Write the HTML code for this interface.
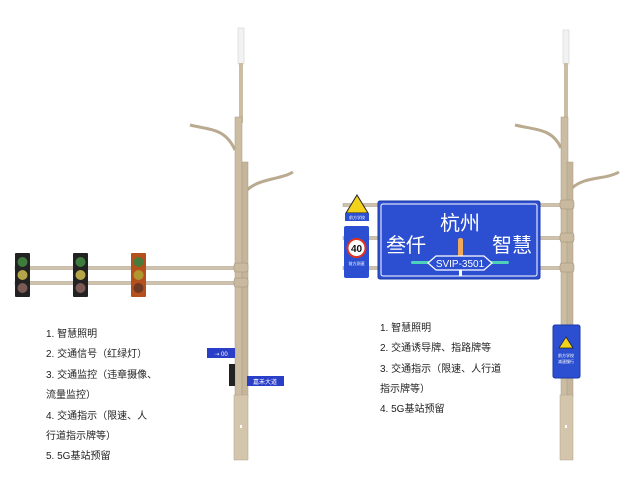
<!DOCTYPE html>
<html><head><meta charset="utf-8"><style>
body{margin:0;background:#fff;width:640px;height:495px;overflow:hidden;font-family:"Liberation Sans","Noto Sans CJK SC",sans-serif}
</style></head><body>
<svg width="640" height="495" xmlns="http://www.w3.org/2000/svg" font-family="Liberation Sans, Noto Sans CJK SC, sans-serif">
<!-- LEFT POLE -->
<g>
<rect x="15" y="266.5" width="225" height="3" fill="#cfc2ac" stroke="#a89a82" stroke-width="0.5"/>
<rect x="15" y="281.5" width="225" height="3" fill="#cfc2ac" stroke="#a89a82" stroke-width="0.5"/>
<path d="M190 125 C210 130,225 128,235 150" stroke="#b9aa90" stroke-width="3" fill="none"/>
<path d="M247 190 C260 178,280 180,293 172" stroke="#b9aa90" stroke-width="3" fill="none"/>
<rect x="238" y="28" width="6" height="36" fill="#f2f2f2" stroke="#ccc" stroke-width="0.5"/>
<rect x="239" y="63" width="4" height="60" fill="#cbbca2"/>
<rect x="235" y="117" width="7" height="280" fill="#cbbca2" stroke="#a89a82" stroke-width="0.5"/>
<rect x="242" y="162" width="6" height="235" fill="#c4b59b" stroke="#a89a82" stroke-width="0.5"/>
<rect x="234" y="395" width="14" height="65" fill="#d4c6ad" stroke="#b0a28a" stroke-width="0.5"/>
<rect x="240" y="425" width="2" height="3" fill="#fff"/>
<rect x="234" y="263" width="14" height="9" rx="2" fill="#c9ba9f" stroke="#9c8e76" stroke-width="0.5"/>
<rect x="234" y="278" width="14" height="9" rx="2" fill="#c9ba9f" stroke="#9c8e76" stroke-width="0.5"/>
<g>
<rect x="15" y="253" width="15" height="44" rx="1" fill="#222"/>
<circle cx="22.5" cy="262" r="5" fill="#3f7b3c"/><circle cx="22.5" cy="275" r="5" fill="#b5a64a"/><circle cx="22.5" cy="288" r="5" fill="#7a5a55"/>
<rect x="73" y="253" width="15" height="44" rx="1" fill="#222"/>
<circle cx="80.5" cy="262" r="5" fill="#3f7b3c"/><circle cx="80.5" cy="275" r="5" fill="#b5a64a"/><circle cx="80.5" cy="288" r="5" fill="#7a5a55"/>
<rect x="131" y="253" width="15" height="44" rx="1" fill="#b5501c"/>
<circle cx="138.5" cy="262" r="5" fill="#4a7a3a"/><circle cx="138.5" cy="275" r="5" fill="#b0962e"/><circle cx="138.5" cy="288" r="5" fill="#6e3a25"/>
</g>
<rect x="207" y="348" width="28" height="10" fill="#2a3fc8"/>
<text x="221" y="356" font-size="6" fill="#fff" text-anchor="middle">⇢ 00</text>
<rect x="229" y="364" width="6" height="22" fill="#222"/>
<rect x="247" y="376" width="37" height="10" fill="#2a3fc8"/>
<text x="265" y="384" font-size="6" fill="#fff" text-anchor="middle">嘉禾大道</text>
</g>
<g font-size="10" fill="#222">
<text x="46" y="337">1. 智慧照明</text>
<text x="46" y="357">2. 交通信号（红绿灯）</text>
<text x="46" y="378">3. 交通监控（违章摄像、</text>
<text x="46" y="398">流量监控）</text>
<text x="46" y="419">4. 交通指示（限速、人</text>
<text x="46" y="439">行道指示牌等）</text>
<text x="46" y="459">5. 5G基站预留</text>
</g>
<!-- RIGHT POLE -->
<g>
<rect x="343" y="203.5" width="222" height="3" fill="#cfc2ac" stroke="#a89a82" stroke-width="0.5"/>
<rect x="343" y="236.5" width="222" height="3" fill="#cfc2ac" stroke="#a89a82" stroke-width="0.5"/>
<rect x="343" y="266.5" width="222" height="3" fill="#cfc2ac" stroke="#a89a82" stroke-width="0.5"/>
<path d="M515 125 C535 130,552 128,561 148" stroke="#b9aa90" stroke-width="3" fill="none"/>
<path d="M572 188 C585 176,605 180,619 172" stroke="#b9aa90" stroke-width="3" fill="none"/>
<rect x="563" y="30" width="6" height="34" fill="#f2f2f2" stroke="#ccc" stroke-width="0.5"/>
<rect x="564" y="63" width="4" height="60" fill="#cbbca2"/>
<rect x="561" y="117" width="7" height="280" fill="#cbbca2" stroke="#a89a82" stroke-width="0.5"/>
<rect x="567" y="162" width="6" height="235" fill="#c4b59b" stroke="#a89a82" stroke-width="0.5"/>
<rect x="560" y="395" width="13" height="65" fill="#d4c6ad" stroke="#b0a28a" stroke-width="0.5"/>
<rect x="565" y="425" width="2" height="3" fill="#fff"/>
<rect x="560" y="200" width="14" height="9" rx="2" fill="#c9ba9f" stroke="#9c8e76" stroke-width="0.5"/>
<rect x="560" y="233" width="14" height="9" rx="2" fill="#c9ba9f" stroke="#9c8e76" stroke-width="0.5"/>
<rect x="560" y="263" width="14" height="9" rx="2" fill="#c9ba9f" stroke="#9c8e76" stroke-width="0.5"/>
<rect x="378" y="201" width="162" height="78" rx="2" fill="#2b4fd0" stroke="#1d38a8" stroke-width="1"/>
<rect x="381" y="204" width="156" height="72" rx="2" fill="none" stroke="#fff" stroke-width="1"/>
<text x="460" y="230" font-size="20" fill="#fff" text-anchor="middle">杭州</text>
<text x="406" y="252" font-size="20" fill="#fff" text-anchor="middle">叁仟</text>
<text x="512" y="252" font-size="20" fill="#fff" text-anchor="middle">智慧</text>
<rect x="458" y="238" width="5" height="20" rx="2" fill="#f0a85a"/>
<rect x="459" y="268" width="3" height="8" fill="#fff"/>
<rect x="411" y="261" width="98" height="3" rx="1.5" fill="#4fd0b8"/>
<path d="M428 263 L436 256 L484 256 L492 263 L484 270 L436 270 Z" fill="#2b4fd0" stroke="#fff" stroke-width="1.2"/>
<text x="460" y="267" font-size="10" fill="#fff" text-anchor="middle">SVIP-3501</text>
<path d="M357 195 L368 213 L346 213 Z" fill="#f3d21c" stroke="#222" stroke-width="1"/>
<rect x="345" y="213" width="24" height="8" fill="#2b4fd0"/>
<text x="357" y="219" font-size="4" fill="#fff" text-anchor="middle">前方学校</text>
<rect x="344" y="226" width="25" height="52" rx="2" fill="#2b4fd0"/>
<circle cx="356.5" cy="248" r="9" fill="#fff" stroke="#d32" stroke-width="2"/>
<text x="356.5" y="252" font-size="10" font-weight="bold" fill="#111" text-anchor="middle">40</text>
<text x="356.5" y="265" font-size="4" fill="#fff" text-anchor="middle">前方测速</text>
<rect x="553" y="325" width="27" height="53" rx="2" fill="#2b4fd0" stroke="#1d38a8"/>
<path d="M566 337 L573 348 L559 348 Z" fill="#f3d21c" stroke="#222" stroke-width="0.7"/>
<text x="566" y="357" font-size="4" fill="#fff" text-anchor="middle">前方学校</text>
<text x="566" y="363" font-size="4" fill="#fff" text-anchor="middle">减速慢行</text>
</g>
<g font-size="10" fill="#222">
<text x="380" y="331">1. 智慧照明</text>
<text x="380" y="351">2. 交通诱导牌、指路牌等</text>
<text x="380" y="372">3. 交通指示（限速、人行道</text>
<text x="380" y="392">指示牌等）</text>
<text x="380" y="412">4. 5G基站预留</text>
</g>
</svg>
</body></html>
